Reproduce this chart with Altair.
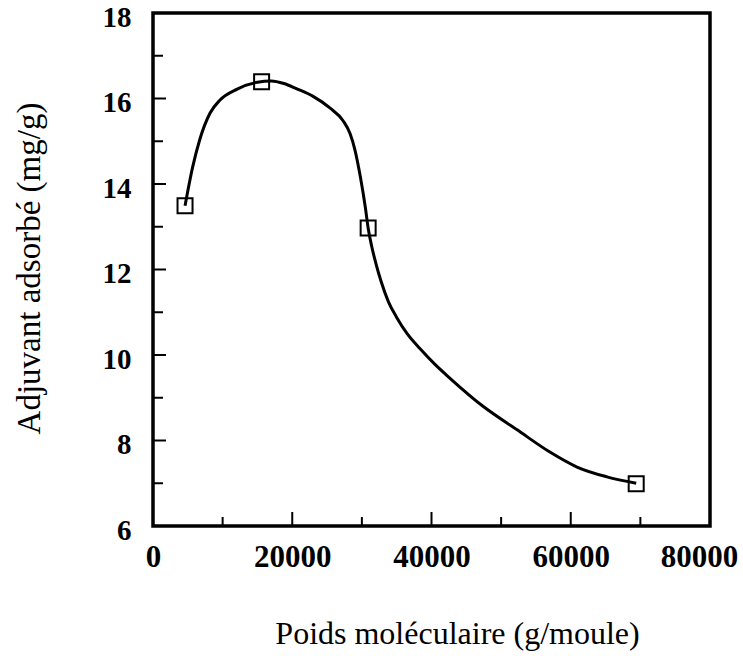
import altair as alt
import pandas as pd

# measured points (square markers)
pt_x = [4600, 15600, 30900, 69400]
pt_y = [13.49, 16.39, 12.97, 6.99]

# hand-drawn smooth curve
curve_x = [4600, 5700, 6700, 8200, 9600, 12100, 15000, 17000, 18800, 20600, 23000,
           25400, 27300, 28300, 29000, 29800, 30500, 30900, 31400, 32000, 32800,
           33800, 35000, 36500, 38400, 40500, 42700, 47400, 52300, 57000, 60900,
           65200, 69400]
curve_y = [13.49, 14.40, 15.03, 15.66, 15.96, 16.22, 16.38, 16.41, 16.35, 16.23, 16.05,
           15.78, 15.48, 15.18, 14.80, 14.15, 13.45, 12.97, 12.55, 12.15, 11.70,
           11.25, 10.88, 10.50, 10.14, 9.78, 9.45, 8.80, 8.25, 7.73, 7.38,
           7.15, 7.00]

x_major = [0, 20000, 40000, 60000, 80000]
x_minor = [10000, 30000, 50000, 70000]
y_major = [6, 8, 10, 12, 14, 16, 18]
y_minor = [7, 9, 11, 13, 15, 17]

W, H = 557, 513
FONT = "Liberation Serif, Times New Roman, Times, serif"

xs = alt.Scale(domain=[0, 80000], nice=False, zero=False)
ys = alt.Scale(domain=[6, 18], nice=False, zero=False)

x_axis = alt.Axis(values=x_major, format="d", ticks=False, tickSize=0, domain=False, grid=False,
                  labelFont=FONT, labelFontWeight="bold", labelFontSize=31, labelColor="black",
                  labelPadding=16, labelFlush=False, labelOverlap=False,
                  labelOffset={"condition": {"test": "datum.value == 80000", "value": -11}, "value": 0},
                  title="Poids moléculaire (g/moule)", titleFont=FONT, titleFontWeight="normal",
                  titleFontSize=32, titleColor="black", titleX=304, titleY=117,
                  titleAlign="center", titleBaseline="alphabetic")
y_axis = alt.Axis(values=y_major, format="d", ticks=False, tickSize=0, domain=False, grid=False,
                  labelFont=FONT, labelFontWeight="bold", labelFontSize=29, labelColor="black",
                  labelPadding=22, labelOffset=4, labelFlush=False, labelOverlap=False,
                  title="Adjuvant adsorbé (mg/g)", titleFont=FONT, titleFontWeight="normal",
                  titleFontSize=33, titleColor="black", titleX=-114, titleY=255,
                  titleAlign="center", titleBaseline="alphabetic", titleAngle=270)

curve_df = pd.DataFrame({"x": curve_x, "y": curve_y})
pts_df = pd.DataFrame({"x": pt_x, "y": pt_y})

line = alt.Chart(curve_df).mark_line(color="black", strokeWidth=3, interpolate="monotone").encode(
    x=alt.X("x:Q", scale=xs, axis=x_axis),
    y=alt.Y("y:Q", scale=ys, axis=y_axis),
)
pts = alt.Chart(pts_df).mark_point(shape="square", size=225, filled=False, color="black",
                                   strokeWidth=2, opacity=1).encode(
    x=alt.X("x:Q", scale=xs),
    y=alt.Y("y:Q", scale=ys),
)

def xticks(vals, length):
    return alt.Chart(pd.DataFrame({"v": vals})).mark_rule(color="black", strokeWidth=2).encode(
        x=alt.X("v:Q", scale=xs), y=alt.value(H), y2=alt.value(H - length))

def yticks(vals, length):
    return alt.Chart(pd.DataFrame({"v": vals})).mark_rule(color="black", strokeWidth=2).encode(
        y=alt.Y("v:Q", scale=ys), x=alt.value(0), x2=alt.value(length))

chart = alt.layer(
    xticks(x_major, 14), xticks(x_minor, 9),
    yticks(y_major, 13), yticks(y_minor, 10),
    line, pts,
).properties(
    width=W, height=H,
    autosize=alt.AutoSizeParams(type="none"),
    padding={"left": 153, "top": 13, "right": 33, "bottom": 130},
    background="white",
).configure_view(stroke="black", strokeWidth=3.5)

chart.save("out.html", embed_options={"renderer": "svg", "actions": False})
